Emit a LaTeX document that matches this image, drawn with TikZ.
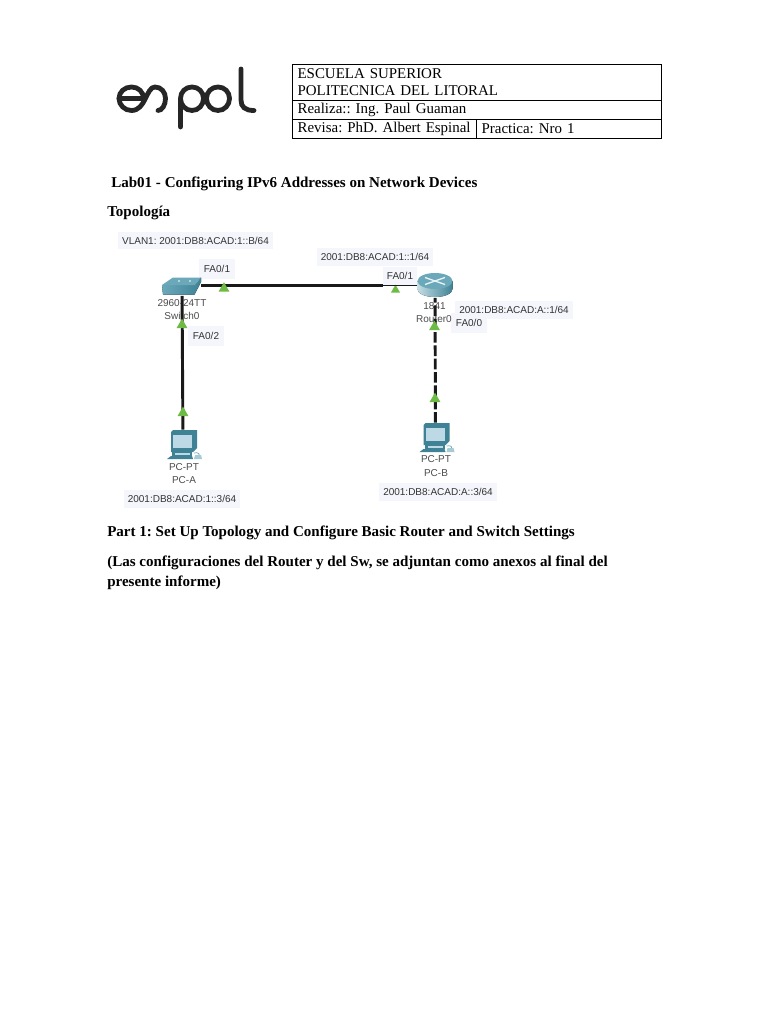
\documentclass[tikz,border=0pt]{standalone}
\usepackage{fontspec}
\setmainfont{Liberation Serif}
\newfontfamily\labelfont{Liberation Sans}
\usetikzlibrary{shapes.geometric}
\definecolor{labelbg}{HTML}{F5F6FC}
\definecolor{linkgreen}{HTML}{6DBB45}
\definecolor{devtop}{HTML}{6BA9BA}
\definecolor{devside}{HTML}{3F8296}
\definecolor{screenblue}{HTML}{BDD9E6}
\tikzset{
	tablecell/.style={rectangle, draw=black, line width=0.75pt, outer sep=0pt, inner xsep=4.2pt, inner ysep=0pt, anchor=north west, align=left, font=\fontsize{11.2pt}{12.9pt}\selectfont},
	bodytext/.style={anchor=base west, inner sep=0pt, font=\fontsize{11.28pt}{13pt}\selectfont\bfseries},
	addrlabel/.style={rectangle, fill=labelbg, inner xsep=3.2pt, inner ysep=3.8pt, text=black!80, font=\labelfont\fontsize{7.5pt}{8pt}\selectfont},
	portlabel/.style={addrlabel, inner xsep=3.5pt, inner ysep=4.5pt},
	devlabel/.style={inner sep=0pt, text=black!70, font=\labelfont\fontsize{7.5pt}{8pt}\selectfont},
	devnode/.style={rectangle, inner sep=0pt},
	cable/.style={line width=2.2pt, black!90},
	lightup/.style={regular polygon, regular polygon sides=3, fill=linkgreen, inner sep=0pt, minimum size=9.5pt},
	logostroke/.style={line width=3.6pt, line cap=round, black!85},
	pics/pcicon/.style={code={
		\fill[devside] (-10,-14) -- (14,-14) -- (14,4) -- (10,8) -- (-12,8) -- (-12,-12) -- cycle;
		\fill[screenblue] (-10,-9) rectangle (9,4);
		\fill[devside] (-11,8) -- (9,8) -- (9,12) -- (-11,12) -- cycle;
		\fill[screenblue] (-8,9) rectangle (7,10.5);
		\fill[devside] (-12,12) -- (9,12) -- (10,15) -- (-16,15) -- cycle;
		\draw[devtop, line width=0.5pt] (11,9) .. controls (15,8) and (18,10) .. (15,12);
		\fill[devtop!60] (12,11) -- (18,11) -- (19,15) -- (11,15) -- cycle;
	}},
}
\begin{document}
\frenchspacing
\begin{tikzpicture}[x=0.75pt, y=-0.75pt]
	\useasboundingbox (0,0) rectangle (768,1024);
	\fill[white] (0,0) rectangle (768,1024);

	% Logo
	\draw[logostroke] (119,98.5) -- (143.5,98.5) .. controls (143.5,92) and (138.5,87) .. (131.5,87) .. controls (124.5,87) and (119,92) .. (119,98.5);
	\draw[logostroke] (119,98.5) .. controls (119,105) and (124.5,110.5) .. (131.5,110.5) .. controls (146,110.5) and (146,87) .. (155,87) .. controls (161,87) and (165.5,92) .. (165.5,98.5) .. controls (165.5,105) and (162,110.5) .. (158,110.5);
	\draw[logostroke] (180.5,127) -- (180.5,98.5) .. controls (180.5,92) and (185.5,87) .. (192,87) .. controls (198.5,87) and (203.5,92) .. (203.5,98.5) .. controls (203.5,105) and (198.5,110.5) .. (192,110.5) .. controls (185.5,110.5) and (180.5,105) .. (180.5,98.5);
	\draw[logostroke] (218,87) .. controls (224.5,87) and (229.5,92) .. (229.5,98.5) .. controls (229.5,105) and (224.5,110.5) .. (218,110.5) .. controls (211.5,110.5) and (206.5,105) .. (206.5,98.5) .. controls (206.5,92) and (211.5,87) .. (218,87) -- cycle;
	\draw[logostroke] (241,69) -- (241,100) .. controls (241,107) and (245,110.5) .. (254,110.5);

	% Table
	\node[tablecell, text width=268.35pt, minimum height=26.25pt] (headcell) at (292,65) {ESCUELA SUPERIOR\\POLITECNICA DEL LITORAL};
	\node[tablecell, text width=268.35pt, minimum height=14.25pt] (realizacell) at (headcell.south west) {Realiza:: Ing. Paul Guaman};
	\node[tablecell, text width=129.6pt, minimum height=14.25pt] (revisacell) at (realizacell.south west) {\mbox{Revisa: PhD. Albert Espinal}};
	\node[tablecell, text width=130.35pt, minimum height=14.25pt] (practicacell) at (revisacell.north east) {Practica: Nro 1};

	% Headings
	\node[bodytext] (labtitle) at (111,187) {Lab01 - Configuring IPv6 Addresses on Network Devices};
	\node[bodytext] (topotitle) at (107,216) {Topología};
	\node[bodytext] (parttitle) at (107,536) {Part 1: Set Up Topology and Configure Basic Router and Switch Settings};
	\node[bodytext] (noteone) at (107,566) {(Las configuraciones del Router y del Sw, se adjuntan como anexos al final del};
	\node[bodytext] (notetwo) at (107,586) {presente informe)};

	% Labels
	\node[addrlabel] (vlanaddr) at (195.5,240.5) {VLAN1: 2001:DB8:ACAD:1::B/64};
	\node[portlabel] (swport1) at (217,269) {FA0/1};
	\node[portlabel] (swport2) at (206,336) {FA0/2};
	\node[addrlabel] (pcaaddr) at (182,499) {2001:DB8:ACAD:1::3/64};
	\node[addrlabel] (rtaddr1) at (375,257) {2001:DB8:ACAD:1::1/64};
	\node[addrlabel] (rtport1) at (400,276) {FA0/1};
	\node[addrlabel] (rtaddr0) at (514,310) {2001:DB8:ACAD:A::1/64};
	\node[portlabel] (rtport0) at (469,323) {FA0/0};
	\node[addrlabel] (pcbaddr) at (438,492) {2001:DB8:ACAD:A::3/64};
	\node[devlabel] (swmodel) at (182,303) {2960-24TT};
	\node[devlabel] (swname) at (182,316) {Switch0};
	\node[devlabel] (rtmodel) at (434.5,306) {1841};
	\node[devlabel] (rtname) at (434,319) {Router0};
	\node[devlabel] (pcamodel) at (184,467) {PC-PT};
	\node[devlabel] (pcaname) at (184,480) {PC-A};
	\node[devlabel] (pcbmodel) at (436,459) {PC-PT};
	\node[devlabel] (pcbname) at (436,473) {PC-B};

	% Devices
	\node[devnode, minimum width=28.5pt, minimum height=15pt] (switchdev) at (182,285.5) {};
	\node[devnode, minimum width=26pt, minimum height=18pt] (routerdev) at (435,285.5) {};
	\node[devnode, minimum width=20pt, minimum height=21pt] (pca) at (183,444) {};
	\node[devnode, minimum width=20pt, minimum height=21pt] (pcb) at (435.5,437) {};
	\coordinate (rtjoint) at (383,285.5);

	% Arrows
	\node[lightup, minimum size=8pt] (lightrt) at (395.5,290) {};
	\draw[cable] (switchdev) -- (rtjoint) node[lightup, pos=0.125, yshift=-2.3pt] (lightsw) {};
	\draw[cable, line width=1.4pt] (rtjoint) -- (routerdev);
	\draw[cable] (pca) -- (switchdev);
	\draw[cable, dash pattern=on 8pt off 2pt] (pcb) -- (routerdev);
	\node[lightup] (lightpca) at (183,413) {};
	\node[lightup] (lightswb) at (182,325) {};
	\node[lightup] (lightpcb) at (435,399) {};
	\node[lightup] (lightrtb) at (434.5,327) {};

	% Switch
	\fill[left color=devtop, right color=devside] (162,285) -- (195,285) -- (201,277.5) -- (201,282) -- (194.5,294.5) -- (163,294.5) -- cycle;
	\fill[devtop] (162,285) -- (173,277.5) -- (201,277.5) -- (195,285) -- cycle;
	\fill[white] (179,281) circle (0.8);
	\fill[white] (190,281) circle (0.8);

	% Router
	\fill[left color=devtop!40, right color=devside] (417.5,281) -- (417.5,289) .. controls (417.5,293.5) and (425,297) .. (435,297) .. controls (445,297) and (452.5,293.5) .. (452.5,289) -- (452.5,281) -- cycle;
	\fill[devtop] (435,281) ellipse[x radius=17.5, y radius=8];
	\draw[white!85!devtop, line width=1pt] (425,277.5) -- (445,284.5) (445,277.5) -- (425,284.5);

	% PCs
	\pic at (pca) {pcicon};
	\pic at (pcb) {pcicon};
\end{tikzpicture}
\end{document}
